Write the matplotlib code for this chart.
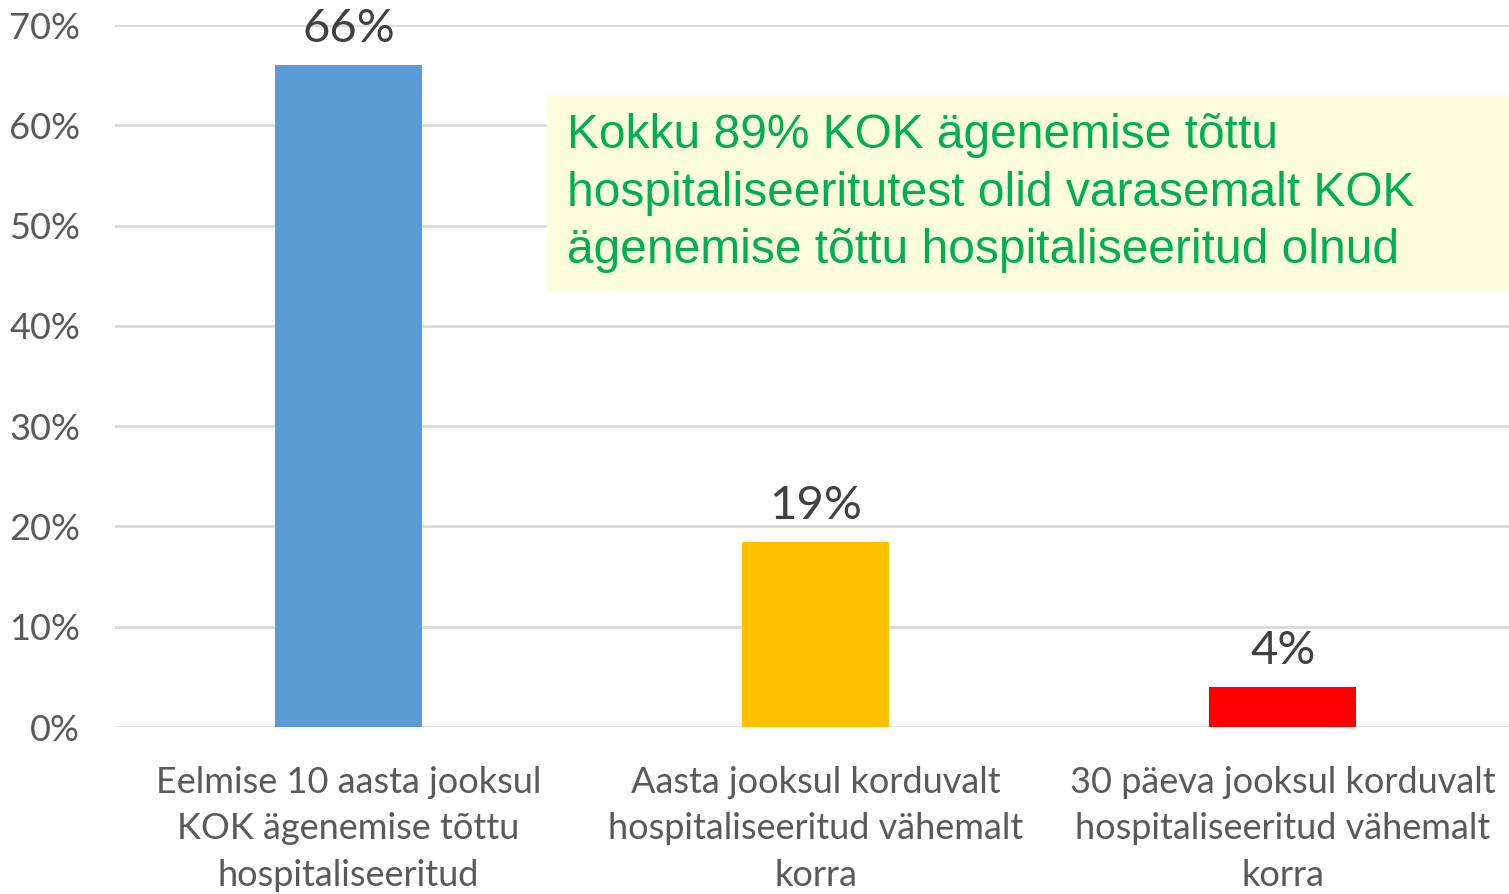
import matplotlib.pyplot as plt
from matplotlib.ticker import FuncFormatter

categories = ['Eelmise 10 aasta jooksul\nKOK ägenemise tõttu\nhospitaliseeritud',
              'Aasta jooksul korduvalt\nhospitaliseeritud vähemalt\nkorra',
              '30 päeva jooksul korduvalt\nhospitaliseeritud vähemalt\nkorra']
values = [66, 18.4, 4]
value_labels = ['66%', '19%', '4%']
bar_colors = ['#5b9bd5', '#ffc000', '#ff0000']
note = ('Kokku 89% KOK ägenemise tõttu\n'
        'hospitaliseeritutest olid varasemalt KOK\n'
        'ägenemise tõttu hospitaliseeritud olnud')

plt.rcParams['font.family'] = ['Lato', 'DejaVu Sans']

fig = plt.figure(figsize=(15.09, 8.94), dpi=100)
ax = fig.add_axes([0.0762, 0.1868, 0.9286, 0.7852])

x = range(len(categories))
ax.bar(x, values, width=0.315, color=bar_colors, zorder=3)

# value labels above bars
for i, v in enumerate(values):
    ax.text(i, v + 1.5, value_labels[i], ha='center', va='bottom',
            fontsize=34, color='#404040', zorder=4)

ax.set_ylim(0, 70)
ax.set_xlim(-0.5, 2.5)
ax.set_yticks(range(0, 71, 10))
ax.yaxis.set_major_formatter(FuncFormatter(lambda v, p: f'{int(v)}%'))
ax.grid(axis='y', color='#d9d9d9', linewidth=2, zorder=0)
ax.set_xticks(list(x))
ax.set_xticklabels(categories, fontsize=26, color='#595959', linespacing=1.5)
ax.tick_params(axis='y', labelsize=26, labelcolor='#595959', length=0, pad=25)
ax.tick_params(axis='x', length=0, pad=28)
for s in ax.spines.values():
    s.set_visible(False)

# highlighted note box
fig.patches.append(plt.Rectangle((547 / 1509, 1 - 290 / 894), 962 / 1509, 195 / 894,
                                 transform=fig.transFigure, color='#fdfddc', zorder=5))
fig.text(567 / 1509, 1 - 193 / 894, note, ha='left', va='center',
         fontsize=34.5, color='#00b050', family='Liberation Sans',
         linespacing=1.36, zorder=6)

fig.savefig('out.png', dpi=100)
